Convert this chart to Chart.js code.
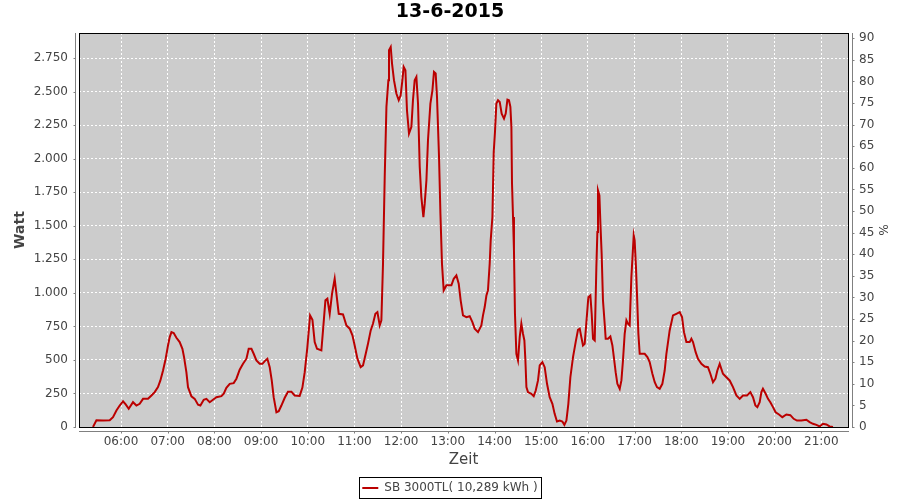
<!DOCTYPE html>
<html>
<head>
<meta charset="utf-8">
<script src="https://cdn.jsdelivr.net/npm/chart.js@4/dist/chart.umd.min.js"></script>
<style>
html,body{margin:0;padding:0;background:#ffffff;}
#wrap{width:900px;height:500px;}
</style>
</head>
<body>
<div id="wrap"><canvas id="c" width="900" height="500"></canvas></div>
<script>
const chartTitle = '13-6-2015';
const seriesLabel = 'SB 3000TL( 10,289 kWh )';
const xTitle = 'Zeit';
const yTitle = 'Watt';
const y2Title = '%';

// time of each sample, minutes after midnight
const times = [324,328.4,337,345.5,349.7,354.1,358.3,362.6,366,369.9,
375.4,379.8,384,388.3,394.7,399.1,403.3,407.5,410.6,414,
417.4,420.4,422.6,424.8,427.7,431.2,435.4,438.9,441,444,
446.1,450.5,454.7,459,462,466.3,469.7,474,478.2,482.6,
489,492,495.4,499.7,504.8,508.3,512.5,516.8,521.2,524.1,
527.6,530.5,534,538.2,541.7,544.7,548.1,551.1,553.7,556.2,
559.7,562.7,566.1,570.4,574.6,579,583.2,589.6,593.1,596.1,
599.5,603,606,608.9,611.9,617.5,619.6,622.7,625.2,628.2,
631.2,634.6,636.8,639.8,645.3,649.7,653.9,657.4,660.3,663.8,
668,671,674.5,677.4,680.9,683.8,686.9,689.5,692.5,694.6,
696.7,698.9,701.1,703.6,704.4,706.6,708.3,710.8,713.9,716.9,
719.4,721.6,723.3,725.5,727.5,730.1,733.2,735.2,737.4,739.6,
741.7,743.9,746,748.6,750.3,752.5,754.5,757.6,760.2,762.2,
764.4,766.1,768.7,770.5,772.5,774.7,778.2,784.6,787.6,791,
794,796.5,799.5,803.9,808.1,811.6,814.5,818.8,823.1,825.2,
827.4,829.6,831.6,833.8,835.1,837.3,839,840.6,842.4,844.5,
846.7,849.2,852.2,854.4,856.6,858.6,860.4,861.7,862.5,863.8,
865,866.3,868.1,870.2,872.4,874.5,876.6,878.4,879.7,881,
883,887.4,890.4,893,895.9,898.1,901.5,904.5,907.5,910.9,
914.4,917.3,920.3,923.8,927.2,929.8,932.4,934.9,937.5,940.9,
944.3,947.3,949.5,951.6,953.7,955.9,958.1,960.6,963.2,964.9,
966.6,968.8,970.9,972.2,973,974.8,976.1,977.7,979.4,981.6,
982.9,985.8,988.9,991.5,993.6,995.7,997.9,1000.9,1003.1,1005.1,
1007.3,1009.5,1011.5,1013.7,1015.9,1017.6,1018.9,1020.1,1021.8,1023.1,
1024.9,1026.6,1030.1,1033,1036.5,1039.4,1042.9,1045.9,1048.8,1052.3,
1055.7,1058.7,1060.9,1065.1,1069.4,1073.7,1078,1081,1083.5,1086.6,
1090.8,1093,1095.1,1098.5,1101.5,1105.9,1110.1,1114.3,1117.4,1120.8,
1123.9,1126.4,1129.4,1133.6,1138,1142.2,1146.5,1150.9,1155.1,1159.3,
1164.5,1168.8,1172.2,1175.3,1177.8,1180.8,1183,1185,1188.5,1191.5,
1194.5,1197.9,1201.3,1205.6,1209.9,1215.1,1220.2,1224.5,1228.7,1234.4,
1240.8,1245,1249.3,1253.7,1257.9,1262.1,1266.5,1270.7,1275];

// power in watts
const watts = [0,50,48,50,73,123,160,192,168,136,
185,160,173,210,210,235,260,297,347,421,
509,608,670,707,700,665,633,583,521,409,
297,228,210,166,160,203,210,185,203,222,
230,248,292,322,327,360,427,471,509,583,
583,546,496,471,471,491,509,446,347,222,
110,118,160,218,262,262,235,232,294,409,
595,832,800,633,583,571,720,944,956,844,
994,1105,994,844,839,757,733,683,608,509,
446,459,546,621,720,770,844,856,757,795,
1217,1863,2386,2585,2809,2833,2709,2585,2486,2436,
2473,2585,2684,2660,2361,2187,2237,2436,2585,2610,
2411,1938,1714,1565,1665,1839,2137,2411,2510,2647,
2635,2460,2013,1590,1217,1018,1056,1056,1105,1130,
1068,944,832,819,826,782,733,707,757,832,
894,981,1018,1217,1391,1565,2050,2199,2411,2436,
2423,2336,2299,2336,2440,2436,2386,2237,1814,1565,
1317,844,546,496,670,770,695,645,496,297,
260,248,230,272,347,459,484,446,322,222,
173,98,41,48,41,16,48,173,371,521,
633,725,733,670,608,621,782,968,981,844,
658,645,1192,1453,1764,1727,1516,1292,944,770,
658,658,675,608,509,409,322,285,347,496,
695,795,770,757,1118,1292,1428,1391,1192,994,
695,546,546,546,521,484,397,334,297,285,
322,421,546,720,832,844,856,819,707,633,
633,658,633,558,509,471,451,446,397,334,
360,421,471,397,371,347,297,235,210,235,
235,260,222,160,148,185,260,285,248,210,
185,148,110,93,73,93,88,61,48,48,
54,36,24,16,4,24,19,4,0];

const xTickLabels = ['06:00','07:00','08:00','09:00','10:00','11:00','12:00','13:00','14:00','15:00','16:00','17:00','18:00','19:00','20:00','21:00'];
const yTicks = [0,250,500,750,1000,1250,1500,1750,2000,2250,2500,2750];
const pctTicks = [0,5,10,15,20,25,30,35,40,45,50,55,60,65,70,75,80,85,90];

const xRange = [306, 1294.3];
const yMax = 2937;
const pctMax = 91.2;

const toMin = s => { const p = s.split(':'); return (+p[0]) * 60 + (+p[1]); };
const xTickValues = xTickLabels.map(toMin);
const labelFor = {};
xTickLabels.forEach((l, i) => { labelFor[xTickValues[i]] = l; });
const fmtDE = v => String(v).replace(/\B(?=(\d{3})+(?!\d))/g, '.');

const FONT = 'DejaVu Sans';
const TXT = '#444444';
const AXIS = '#808080';

const decor = {
  id: 'decor',
  beforeDraw(chart) {
    const {ctx, chartArea: a} = chart;
    ctx.save();
    ctx.fillStyle = '#cccccc';
    ctx.fillRect(a.left, a.top, a.right - a.left, a.bottom - a.top);
    ctx.restore();
  },
  afterDatasetsDraw(chart) {
    const {ctx, chartArea: a, scales} = chart;
    ctx.save();
    ctx.lineWidth = 1;
    ctx.strokeStyle = '#000000';
    ctx.strokeRect(a.left + 0.5, a.top + 0.5, a.right - a.left, a.bottom - a.top);
    ctx.strokeStyle = AXIS;
    ctx.beginPath();
    // left axis
    const lx = a.left - 3.5;
    ctx.moveTo(lx, a.top); ctx.lineTo(lx, a.bottom + 1);
    yTicks.forEach(v => {
      const y = Math.round(scales.y.getPixelForValue(v)) + 0.5;
      ctx.moveTo(lx - 2, y); ctx.lineTo(lx, y);
    });
    // right axis
    const rx = a.right + 4.5;
    ctx.moveTo(rx, a.top); ctx.lineTo(rx, a.bottom + 1);
    pctTicks.forEach(v => {
      const y = Math.round(scales.y1.getPixelForValue(v)) + 0.5;
      ctx.moveTo(rx, y); ctx.lineTo(rx + 2, y);
    });
    // bottom axis
    const by = a.bottom + 4.5;
    ctx.moveTo(a.left, by); ctx.lineTo(a.right + 1, by);
    xTickValues.forEach(v => {
      const x = Math.round(scales.x.getPixelForValue(v)) + 0.5;
      ctx.moveTo(x, by); ctx.lineTo(x, by + 2);
    });
    ctx.stroke();
    ctx.restore();
  },
  afterDraw(chart) {
    const lg = chart.legend;
    if (!lg || !lg.legendHitBoxes || !lg.legendHitBoxes.length) return;
    const hb = lg.legendHitBoxes[0];
    const {ctx} = chart;
    const cy = hb.top + hb.height / 2;
    const x0 = Math.round(hb.left - 3) + 0.5;
    const x1 = Math.round(hb.left + hb.width + 3) + 0.5;
    const y0 = Math.round(cy - 11) + 0.5;
    const y1 = Math.round(cy + 10) + 0.5;
    ctx.save();
    ctx.strokeStyle = '#000000';
    ctx.lineWidth = 1;
    ctx.strokeRect(x0, y0, x1 - x0, y1 - y0);
    ctx.restore();
  }
};

new Chart(document.getElementById('c'), {
  type: 'line',
  data: {
    datasets: [{
      label: seriesLabel,
      data: times.map((t, i) => ({x: t, y: watts[i]})),
      borderColor: '#bb0000',
      backgroundColor: '#bb0000',
      borderWidth: 2,
      pointRadius: 0,
      pointStyle: 'line',
      tension: 0,
      fill: false,
      xAxisID: 'x',
      yAxisID: 'y'
    }]
  },
  options: {
    responsive: false,
    animation: false,
    events: [],
    layout: {padding: {left: 0, right: 0, top: 0, bottom: -4}},
    plugins: {
      title: {
        display: true,
        text: chartTitle,
        color: '#000000',
        font: {family: FONT, size: 19, weight: 'bold'},
        padding: {top: 1, bottom: 9.2}
      },
      legend: {
        display: true,
        position: 'bottom',
        labels: {
          usePointStyle: true,
          pointStyle: 'line',
          pointStyleWidth: 16,
          padding: 6,
          color: TXT,
          font: {family: FONT, size: 12}
        }
      },
      tooltip: {enabled: false}
    },
    scales: {
      x: {
        type: 'linear',
        position: 'bottom',
        min: xRange[0],
        max: xRange[1],
        afterBuildTicks: s => { s.ticks = xTickValues.map(v => ({value: v})); },
        afterFit: s => { s.height = 49; },
        ticks: {
          autoSkip: false,
          maxRotation: 0,
          padding: 8,
          color: TXT,
          font: {family: FONT, size: 12},
          callback: v => labelFor[v] || ''
        },
        grid: {color: '#ffffff', lineWidth: 1, drawTicks: false},
        border: {display: false, dash: [2, 2]},
        title: {display: true, text: xTitle, color: TXT, font: {family: FONT, size: 15}, padding: {top: 0, bottom: 7}}
      },
      y: {
        type: 'linear',
        position: 'left',
        min: 0,
        max: yMax,
        afterBuildTicks: s => { s.ticks = yTicks.map(v => ({value: v})); },
        afterFit: s => { s.width = 79; },
        ticks: {
          padding: 11,
          color: TXT,
          font: {family: FONT, size: 12},
          callback: v => fmtDE(v)
        },
        grid: {color: '#ffffff', lineWidth: 1, drawTicks: false},
        border: {display: false, dash: [2, 2]},
        title: {display: true, text: yTitle, color: TXT, font: {family: FONT, size: 14, weight: 'bold'}, padding: {top: 12, bottom: 0}}
      },
      y1: {
        type: 'linear',
        position: 'right',
        min: 0,
        max: pctMax,
        afterBuildTicks: s => { s.ticks = pctTicks.map(v => ({value: v})); },
        afterFit: s => { s.width = 52; },
        ticks: {
          padding: 11,
          color: TXT,
          font: {family: FONT, size: 12},
          callback: v => String(v)
        },
        grid: {display: false, drawOnChartArea: false, drawTicks: false},
        border: {display: false},
        title: {display: true, text: y2Title, color: TXT, font: {family: FONT, size: 12}, padding: {top: 11, bottom: 0}}
      }
    }
  },
  plugins: [decor]
});
</script>
</body>
</html>
